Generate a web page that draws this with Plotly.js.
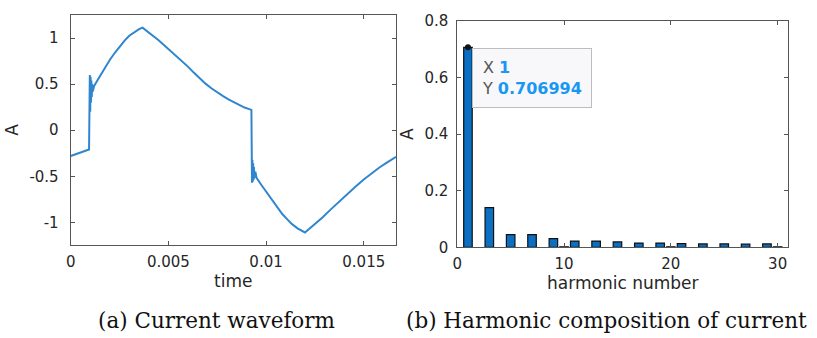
<!DOCTYPE html>
<html>
<head>
<meta charset="utf-8">
<script src="https://cdn.plot.ly/plotly-3.0.1.min.js"></script>
<style>html,body{margin:0;padding:0;background:#fff;}#chart{width:817px;height:338px;}</style>
</head>
<body>
<div id="chart"></div>
<script>
// (a) current waveform
var timeValues = [0, 0.00094, 0.00098, 0.00100, 0.00102, 0.00104, 0.00106, 0.00108, 0.00110, 0.00113, 0.00120,
  0.00145, 0.00175, 0.0020, 0.00226, 0.0025, 0.00277, 0.0030, 0.00328, 0.0035, 0.00368,
  0.0042, 0.0045, 0.0048, 0.0051, 0.0054, 0.0057, 0.0060, 0.0063, 0.0066, 0.0069, 0.0072, 0.0075,
  0.0078, 0.0081, 0.0084, 0.0087, 0.0089, 0.0091, 0.00925,
  0.00928, 0.00930, 0.00932, 0.00934, 0.00936, 0.00938, 0.00940, 0.00945, 0.00952,
  0.00978, 0.01008, 0.01033, 0.01059, 0.01083, 0.0111, 0.01133, 0.01161, 0.01183, 0.01199,
  0.0122, 0.0125, 0.0129, 0.0133, 0.01375, 0.0142, 0.0146, 0.0150, 0.01545, 0.0158, 0.01614, 0.01665];
var currentValues = [-0.28, -0.21, 0.60, 0.20, 0.58, 0.30, 0.54, 0.36, 0.50, 0.42, 0.48,
  0.57, 0.678, 0.762, 0.84, 0.91, 0.975, 1.025, 1.07, 1.097, 1.113,
  1.03, 0.975, 0.92, 0.865, 0.81, 0.75, 0.69, 0.625, 0.56, 0.505, 0.455, 0.41,
  0.37, 0.332, 0.298, 0.265, 0.246, 0.231, 0.22,
  -0.57, -0.32, -0.56, -0.36, -0.54, -0.40, -0.52, -0.45, -0.52,
  -0.60, -0.69, -0.77, -0.845, -0.91, -0.97, -1.02, -1.065, -1.094, -1.11,
  -1.072, -1.018, -0.945, -0.862, -0.772, -0.685, -0.608, -0.535, -0.458, -0.405, -0.358, -0.29];

// (b) harmonic composition
var harmonicNumbers = [1, 3, 5, 7, 9, 10, 11, 13, 15, 17, 19, 20, 21, 23, 25, 27, 29, 30];
var harmonicAmps = [0.706994, 0.140, 0.045, 0.045, 0.031, 0.002, 0.022, 0.022, 0.019, 0.015, 0.015, 0.002, 0.013, 0.012, 0.012, 0.011, 0.012, 0.002];

// data tip
var tipX = [1];
var tipY = [0.706994];

// tick labels
var leftYTickVals = [-1, -0.5, 0, 0.5, 1];
var leftYTickText = ['-1', '-0.5', '0', '0.5', '1'];
var leftXTickVals = [0, 0.005, 0.01, 0.015];
var leftXTickText = ['0', '0.005', '0.01', '0.015'];

var captionA = '(a) Current waveform';
var captionB = '(b) Harmonic composition of current';

var tickFont = {family: 'DejaVu Sans', size: 15, color: '#262626'};
var titleFont = {family: 'DejaVu Sans', size: 17, color: '#262626'};
var axisCommon = {
  showgrid: false, zeroline: false, showline: true, linecolor: '#555', linewidth: 1,
  mirror: 'ticks', ticks: 'inside', ticklen: 4, tickcolor: '#555', tickwidth: 1,
  tickfont: tickFont, automargin: false, fixedrange: true
};
function ax(extra) { return Object.assign({}, axisCommon, extra); }

var traces = [
  {
    type: 'scatter', mode: 'lines', x: timeValues, y: currentValues,
    line: {color: '#2f86cf', width: 2}, xaxis: 'x', yaxis: 'y', hoverinfo: 'skip'
  },
  {
    type: 'bar', x: harmonicNumbers, y: harmonicAmps, width: 0.8,
    marker: {color: '#0b6fc4', line: {color: '#111', width: 1.2}},
    xaxis: 'x2', yaxis: 'y2', hoverinfo: 'skip'
  },
  {
    type: 'scatter', mode: 'markers', x: tipX, y: tipY,
    marker: {color: '#111', size: 6}, xaxis: 'x2', yaxis: 'y2', hoverinfo: 'skip', cliponaxis: false
  }
];

var layout = {
  width: 817, height: 338,
  margin: {l: 0, r: 0, t: 0, b: 0},
  paper_bgcolor: '#fff', plot_bgcolor: '#fff',
  showlegend: false,
  xaxis: ax({
    domain: [0.0865, 0.4847], range: [0, 0.01665],
    tickvals: leftXTickVals, ticktext: leftXTickText, ticklabelstandoff: 3,
    title: {text: 'time', font: titleFont, standoff: 0}, anchor: 'y'
  }),
  yaxis: ax({
    domain: [0.27515, 0.95562], range: [-1.246, 1.25],
    tickvals: leftYTickVals, ticktext: leftYTickText, ticklabelstandoff: 8,
    title: {text: 'A', font: titleFont, standoff: 6}, anchor: 'x'
  }),
  xaxis2: ax({
    domain: [0.5597, 0.9649], range: [0, 31], dtick: 10, tick0: 0, ticklabelstandoff: 3,
    title: {text: 'harmonic number', font: titleFont, standoff: 0}, anchor: 'y2'
  }),
  yaxis2: ax({
    domain: [0.26834, 0.93787], range: [0, 0.8], dtick: 0.2, tick0: 0, ticklabelstandoff: 5,
    title: {text: 'A', font: titleFont, standoff: 6}, anchor: 'x2'
  }),
  annotations: [
    {
      xref: 'paper', yref: 'paper', x: 0.5774, y: 0.8571, xanchor: 'left', yanchor: 'top',
      showarrow: false, align: 'left',
      text: '<span style="color:#555">X </span><b><span style="color:#1a97f5">' + tipX[0] + '</span></b><br>' +
            '<span style="color:#555">Y </span><b><span style="color:#1a97f5">' + tipY[0] + '</span></b>',
      font: {family: 'DejaVu Sans', size: 16},
      bgcolor: '#f8f8fb', bordercolor: '#bdbdbd', borderwidth: 1, borderpad: 9
    },
    {
      xref: 'paper', yref: 'paper', x: 216.7 / 817, y: 1 - 320 / 338, xanchor: 'center', yanchor: 'middle',
      showarrow: false, text: captionA, font: {family: 'DejaVu Serif', size: 21.5, color: '#111'}
    },
    {
      xref: 'paper', yref: 'paper', x: 606.5 / 817, y: 1 - 320 / 338, xanchor: 'center', yanchor: 'middle',
      showarrow: false, text: captionB, font: {family: 'DejaVu Serif', size: 21.5, color: '#111'}
    }
  ]
};

Plotly.newPlot('chart', traces, layout, {displayModeBar: false, staticPlot: true});
</script>
</body>
</html>
